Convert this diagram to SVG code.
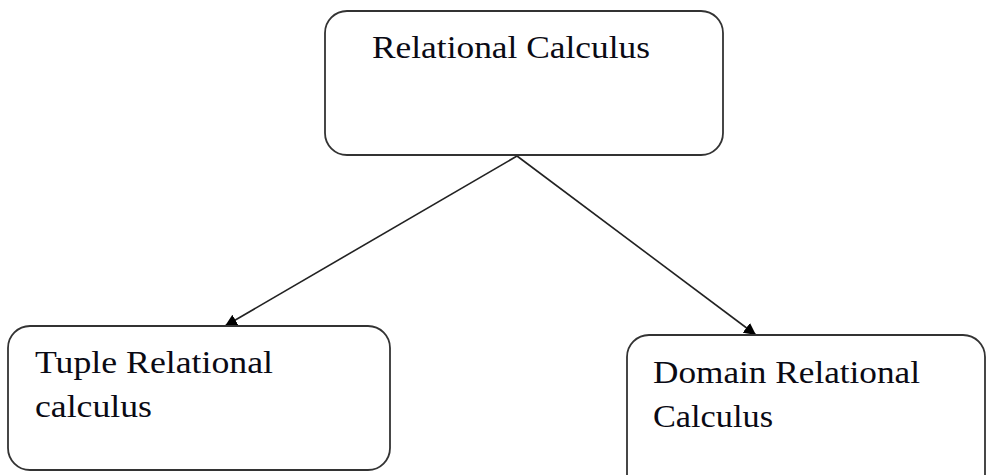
<svg xmlns="http://www.w3.org/2000/svg" width="989" height="475" viewBox="0 0 989 475">
<style>
.box{fill:#fff;stroke:#333;stroke-width:1.8}
.lbl{font-family:"Liberation Serif","DejaVu Serif",serif;font-size:32px;fill:#0a0a14}
.edge{stroke:#222;stroke-width:1.6;fill:none}
</style>
<defs>
<marker id="arr" viewBox="0 0 12 12" refX="12" refY="6" markerWidth="12" markerHeight="12" markerUnits="userSpaceOnUse" orient="auto">
<path d="M0,0 L12,6 L0,12 z" fill="#000"/>
</marker>
</defs>
<rect width="989" height="475" fill="#fff"/>
<g id="edges">
<line class="edge" x1="517" y1="156" x2="225" y2="326" marker-end="url(#arr)"/>
<line class="edge" x1="517" y1="156" x2="756" y2="335" marker-end="url(#arr)"/>
</g>
<g id="node-relational-calculus">
<rect class="box" x="325" y="11" width="398" height="144" rx="22"/>
<text class="lbl" x="372" y="58" textLength="278" lengthAdjust="spacingAndGlyphs">Relational Calculus</text>
</g>
<g id="node-tuple">
<rect class="box" x="8" y="326" width="382" height="144" rx="22"/>
<text class="lbl" x="35" y="373" textLength="238" lengthAdjust="spacingAndGlyphs">Tuple Relational</text>
<text class="lbl" x="35" y="417" textLength="117" lengthAdjust="spacingAndGlyphs">calculus</text>
</g>
<g id="node-domain">
<rect class="box" x="627" y="335" width="358" height="170" rx="22"/>
<text class="lbl" x="653" y="383" textLength="267" lengthAdjust="spacingAndGlyphs">Domain Relational</text>
<text class="lbl" x="653" y="427" textLength="120" lengthAdjust="spacingAndGlyphs">Calculus</text>
</g>
</svg>
